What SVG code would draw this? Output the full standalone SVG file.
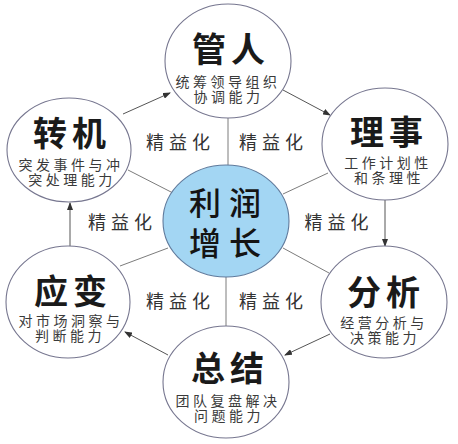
<svg xmlns="http://www.w3.org/2000/svg" width="458" height="444" viewBox="0 0 458 444">
<style>
.node{fill:#ffffff;stroke:#76768f;stroke-width:1.1}
.hub{fill:#a3d6f3;stroke:#5f7a9c;stroke-width:1.1}
.spoke{stroke:#7c7c7c;stroke-width:1;fill:none}
.arrow{stroke:#555555;stroke-width:1;fill:none;marker-end:url(#ah)}
.t{font-family:"Noto Sans CJK SC","Noto Sans CJK JP",sans-serif;text-anchor:middle}
.title{font-size:34px;font-weight:700;fill:#1a1a1a;letter-spacing:5px}
.sub{font-size:14px;fill:#3a3a3a;letter-spacing:3.5px}
.hubt{font-size:32px;font-weight:500;fill:#141414;letter-spacing:8px}
.lab{font-size:18px;fill:#333333;letter-spacing:5px}
</style>
<defs>
<marker id="ah" markerUnits="userSpaceOnUse" markerWidth="8" markerHeight="6" refX="7" refY="3" orient="auto">
<path d="M0,0 L8,3 L0,6 z" fill="#333333"/>
</marker>
</defs>
<rect width="458" height="444" fill="#ffffff"/>
<g id="connectors">
<line class="spoke" x1="228" y1="118" x2="228" y2="165"/>
<line class="spoke" x1="226" y1="277" x2="226" y2="327"/>
<line class="spoke" x1="128" y1="170" x2="173" y2="193"/>
<line class="spoke" x1="283" y1="194" x2="328" y2="173"/>
<line class="spoke" x1="120" y1="266" x2="168" y2="248"/>
<line class="spoke" x1="283" y1="248" x2="329" y2="273"/>
<line class="arrow" x1="123" y1="114" x2="170" y2="93"/>
<line class="arrow" x1="283" y1="90" x2="330" y2="115"/>
<line class="arrow" x1="385" y1="200" x2="385" y2="246"/>
<line class="arrow" x1="330" y1="334" x2="285" y2="355"/>
<line class="arrow" x1="168" y1="355" x2="125" y2="332"/>
<line class="arrow" x1="70" y1="246" x2="70" y2="203"/>
</g>
<g id="labels">
<text class="t lab" x="180.5" y="149">精益化</text>
<text class="t lab" x="273.5" y="149">精益化</text>
<text class="t lab" x="122.5" y="229">精益化</text>
<text class="t lab" x="339" y="229">精益化</text>
<text class="t lab" x="180.5" y="308">精益化</text>
<text class="t lab" x="273.5" y="308">精益化</text>
</g>
<g id="hub">
<ellipse class="hub" cx="226" cy="221" rx="63" ry="56"/>
<text class="t hubt"><tspan x="229" y="215">利润</tspan><tspan x="229" y="255">增长</tspan></text>
</g>
<g id="node-guanren">
<ellipse class="node" cx="228" cy="61" rx="63" ry="57"/>
<text class="t title" x="231" y="62">管人</text>
<text class="t sub"><tspan x="228" y="87">统筹领导组织</tspan><tspan x="228.5" y="102">协调能力</tspan></text>
</g>
<g id="node-lishi">
<ellipse class="node" cx="385" cy="144" rx="63" ry="56"/>
<text class="t title" x="389" y="145">理事</text>
<text class="t sub"><tspan x="388" y="168">工作计划性</tspan><tspan x="389" y="183">和条理性</tspan></text>
</g>
<g id="node-fenxi">
<ellipse class="node" cx="384" cy="302" rx="63" ry="56"/>
<text class="t title" x="386" y="305">分析</text>
<text class="t sub"><tspan x="384" y="328">经营分析与</tspan><tspan x="385" y="343">决策能力</tspan></text>
</g>
<g id="node-zongjie">
<ellipse class="node" cx="226" cy="382" rx="63" ry="56"/>
<text class="t title" x="230" y="381">总结</text>
<text class="t sub"><tspan x="228" y="406">团队复盘解决</tspan><tspan x="229" y="421">问题能力</tspan></text>
</g>
<g id="node-yingbian">
<ellipse class="node" cx="68" cy="302" rx="62" ry="56"/>
<text class="t title" x="73" y="304">应变</text>
<text class="t sub"><tspan x="71" y="326">对市场洞察与</tspan><tspan x="70" y="341">判断能力</tspan></text>
</g>
<g id="node-zhuanji">
<ellipse class="node" cx="69" cy="150" rx="62" ry="52"/>
<text class="t title" x="72" y="146">转机</text>
<text class="t sub"><tspan x="71" y="170">突发事件与冲</tspan><tspan x="72" y="185">突处理能力</tspan></text>
</g>
</svg>
